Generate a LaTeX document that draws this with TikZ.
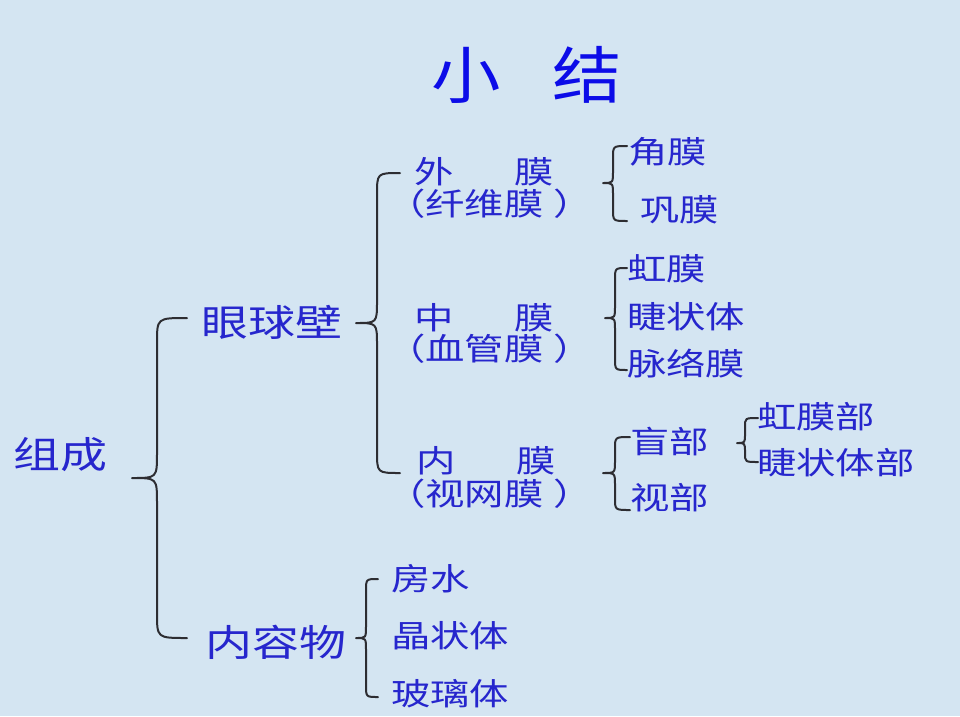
\documentclass[tikz,border=0pt]{standalone}
\usepackage{fontspec}
\newfontfamily\cjkT[FakeStretch=1.12]{Noto Sans CJK SC}
\newfontfamily\cjkA[FakeStretch=1.27]{Noto Sans CJK SC}
\definecolor{bgblue}{RGB}{212,229,242}
\definecolor{titleblue}{RGB}{12,12,232}
\definecolor{txtblue}{RGB}{38,38,205}
\definecolor{bracegray}{RGB}{45,45,50}
\newcommand\drawbrace[7]{% tipx tipy vx endx topy boty r
  \draw[bracepath] (#4,#5) .. controls (#3,#5) .. (#3,{#5+#7})
     -- (#3,{#2-#7}) .. controls (#3,#2) .. (#1,#2)
     .. controls (#3,#2) .. (#3,{#2+#7})
     -- (#3,{#6-#7}) .. controls (#3,#6) .. (#4,#6);
}
\begin{document}
\begin{tikzpicture}[x=1pt,y=-1pt,
  titletext/.style={font={\cjkT\fontsize{62}{62}\selectfont}, text=titleblue, inner sep=0pt},
  bigtext/.style={font={\cjkA\fontsize{37}{37}\selectfont}, text=txtblue, inner sep=0pt, anchor=west},
  smalltext/.style={font={\cjkA\fontsize{31}{31}\selectfont}, text=txtblue, inner sep=0pt, anchor=west},
  tightline/.style={smalltext, anchor=base west, text height=22pt, text depth=1pt},
  bracepath/.style={draw=bracegray, line width=2pt, line cap=round, line join=round}]
\fill[bgblue] (0,0) rectangle (960,716);
\useasboundingbox (0,0) rectangle (960,716);

% title
\node[titletext] (title) at (527,75) {小\hspace{52pt}结};

% level 0 and 1
\node[bigtext] (zucheng) at (13,455) {组成};
\node[bigtext] (yanqiubi) at (201,322) {眼球壁};
\node[bigtext] (neirongwu) at (205,642) {内容物};

% level 2 (eyeball wall)
\node[tightline] (waimo) at (414,183) {外\hspace{61pt}膜};
\node[tightline] (waimo2) at (386,215) {（纤维膜\hspace{10pt}）};
\node[tightline] (zhongmo) at (414,329) {中\hspace{61pt}膜};
\node[tightline] (zhongmo2) at (386,360) {（血管膜\hspace{10pt}）};
\node[tightline] (neimo) at (416,472) {内\hspace{61pt}膜};
\node[tightline] (neimo2) at (386,505) {（视网膜\hspace{10pt}）};

% level 3
\node[smalltext] (jiaomo) at (628,152) {角膜};
\node[smalltext] (gongmo) at (640,210) {巩膜};
\node[smalltext] (hongmo) at (627,269) {虹膜};
\node[smalltext] (jiezhuangti) at (627,317) {睫状体};
\node[smalltext] (mailuomo) at (627,364) {脉络膜};
\node[smalltext] (mangbu) at (630,442) {盲部};
\node[smalltext] (shibu) at (630,498) {视部};
\node[smalltext] (hongmobu) at (757,417) {虹膜部};
\node[smalltext] (jiezhuangtibu) at (757,463) {睫状体部};

% contents
\node[smalltext] (fangshui) at (391,579) {房水};
\node[smalltext] (jingzhuangti) at (391,636) {晶状体};
\node[smalltext] (boliti) at (391,694) {玻璃体};

% braces
\drawbrace{132}{478}{157}{187}{318}{638}{25}
\drawbrace{356}{323}{377}{400}{173}{473}{22}
\drawbrace{356}{638}{366}{378}{579}{697}{12}
\drawbrace{603}{183}{613}{627}{146}{221}{12}
\drawbrace{605}{318}{615}{627}{268}{370}{12}
\drawbrace{603}{473}{615}{630}{437}{510}{12}
\drawbrace{737}{443}{745}{758}{418}{462}{9}
\end{tikzpicture}
\end{document}
